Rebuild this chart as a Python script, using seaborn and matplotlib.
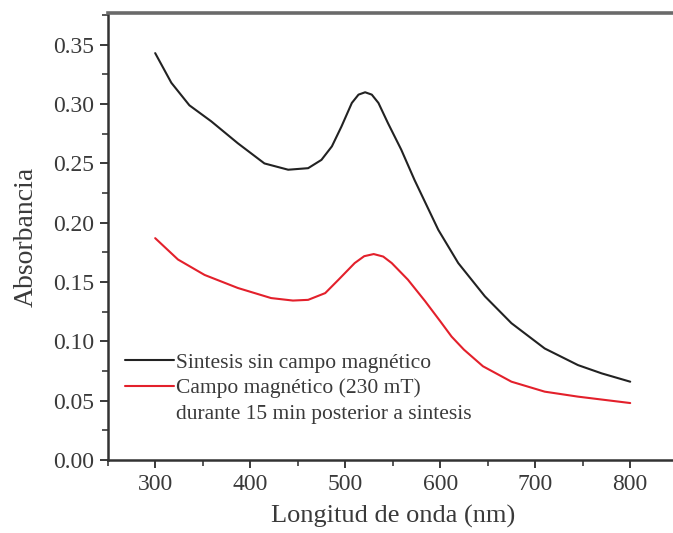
import numpy as np
import matplotlib.pyplot as plt
import pandas as pd
import seaborn as sns
from matplotlib.lines import Line2D

# wavelengths (nm) and absorbance
wl_sin = [300, 317, 336, 359, 387, 415, 440, 461, 475, 486, 496, 507, 514, 521,
          528, 535, 545, 559, 573, 598, 619, 647, 675, 710, 745, 770, 800]
abs_sin = [0.343, 0.318, 0.299, 0.2855, 0.267, 0.250, 0.2447, 0.246, 0.253,
           0.2644, 0.281, 0.301, 0.308, 0.310, 0.308, 0.301, 0.284, 0.2616,
           0.236, 0.194, 0.166, 0.138, 0.1153, 0.094, 0.080, 0.073, 0.066]

wl_campo = [300, 324, 352, 387, 422, 445, 461, 479, 493, 510, 520, 530, 540,
            549, 566, 584, 600, 612, 625, 645, 675, 710, 745, 800]
abs_campo = [0.187, 0.169, 0.156, 0.145, 0.1365, 0.1344, 0.135, 0.1407, 0.152,
             0.166, 0.1718, 0.1736, 0.1715, 0.166, 0.152, 0.134, 0.117, 0.104,
             0.093, 0.079, 0.066, 0.0576, 0.0534, 0.048]

lbl_sin = 'Sintesis sin campo magnético'
lbl_campo = 'Campo magnético (230 mT)'
lbl_campo2 = 'durante 15 min posterior a sintesis'

frame = pd.concat([
    pd.DataFrame({'wl': wl_sin, 'A': abs_sin, 'serie': lbl_sin}),
    pd.DataFrame({'wl': wl_campo, 'A': abs_campo, 'serie': lbl_campo}),
])

sns.set_style('ticks')
plt.rcParams['font.family'] = ['Liberation Serif', 'DejaVu Serif']

fig = plt.figure(figsize=(6.73, 5.33), dpi=100)
ax = fig.add_axes([0.160, 0.137, 0.847, 0.839])

sns.lineplot(data=frame, x='wl', y='A', hue='serie',
             palette={lbl_sin: '#222222', lbl_campo: '#e3202b'},
             linewidth=1.5, ax=ax)

ax.set_xlim(250, 850)
ax.set_ylim(0, 0.377)
ax.set_xticks(np.arange(300, 801, 100))
ax.set_xticks(np.arange(250, 851, 50), minor=True)
ax.set_yticks(np.arange(0, 0.351, 0.05))
ax.set_yticks(np.arange(0, 0.376, 0.025), minor=True)
ax.set_yticklabels(['%.2f' % v for v in np.arange(0, 0.351, 0.05)])

ax.tick_params(which='major', direction='out', length=6, width=1.4,
               labelsize=17, colors='#3a3a3a', pad=4)
ax.tick_params(which='minor', direction='out', length=4, width=1.2,
               colors='#3a3a3a')
for side in ['left', 'bottom', 'right']:
    ax.spines[side].set_linewidth(1.8)
    ax.spines[side].set_color('#333333')
ax.spines['top'].set_linewidth(2.6)
ax.spines['top'].set_color('#6a6a6a')

ax.set_xlabel('Longitud de onda (nm)', fontsize=19, color='#3a3a3a', labelpad=7)
ax.set_ylabel('Absorbancia', fontsize=20, color='#3a3a3a', labelpad=10)

h_sin, h_campo = ax.get_legend().legend_handles[:2]
blank = Line2D([], [], color='none')
leg = ax.legend([h_sin, h_campo, blank], [lbl_sin, lbl_campo, lbl_campo2],
                loc='upper left', bbox_to_anchor=(0.03, 0.24), frameon=False,
                fontsize=15.5, handlelength=2.3, handletextpad=0.1,
                labelspacing=0.25, borderaxespad=0, borderpad=0)
for t in leg.get_texts():
    t.set_color('#3a3a3a')

plt.savefig('out.png', dpi=100)
